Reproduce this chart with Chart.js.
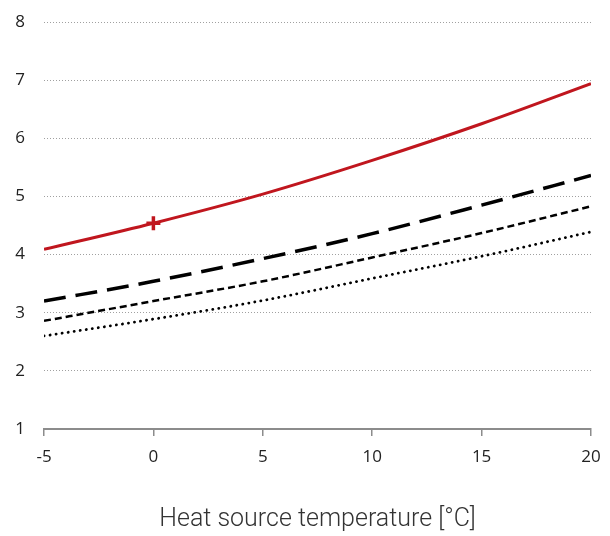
<!DOCTYPE html>
<html>
<head>
	<meta charset="utf-8">
	<title>Heat source temperature</title>
	<script src="https://cdn.jsdelivr.net/npm/chart.js@4/dist/chart.umd.min.js"></script>
	<style>
		html, body { margin: 0; padding: 0; background: #fff; }
		.chart-container { width: 610px; height: 536px; }
	</style>
</head>
<body>
	<div class="chart-container">
		<canvas id="myChart"></canvas>
	</div>
	<script>
		// values
		var temps = [-5, 0, 5, 10, 15, 20];
		var redLine = [4.09, 4.54, 5.04, 5.62, 6.25, 6.94];
		var longDash = [3.20, 3.54, 3.93, 4.36, 4.85, 5.36];
		var shortDash = [2.86, 3.20, 3.54, 3.95, 4.37, 4.83];
		var dotted = [2.60, 2.89, 3.21, 3.59, 3.97, 4.39];
		var markerTemp = [0];
		var markerValue = [4.54];
		var xTicks = [-5, 0, 5, 10, 15, 20];
		var yTicks = [1, 2, 3, 4, 5, 6, 7, 8];

		function pts(xs, ys) {
			return xs.map(function(x, i) { return { x: x, y: ys[i] }; });
		}

		var red = '#C0161E';

		var ctx = document.getElementById('myChart').getContext('2d');
		var myChart = new Chart(ctx, {
			type: 'line',
			data: {
				datasets: [
					{
						data: pts(markerTemp, markerValue),
						showLine: false,
						pointStyle: 'cross',
						pointRadius: 7,
						pointBorderWidth: 3.5,
						pointBorderColor: red,
						order: 0
					},
					{
						data: pts(temps, redLine),
						borderColor: red,
						borderWidth: 3,
						pointRadius: 0,
						cubicInterpolationMode: 'monotone',
						order: 1
					},
					{
						data: pts(temps, longDash),
						borderColor: '#000',
						borderWidth: 3.5,
						borderDash: [22, 10],
						pointRadius: 0,
						cubicInterpolationMode: 'monotone',
						order: 2
					},
					{
						data: pts(temps, shortDash),
						borderColor: '#000',
						borderWidth: 2.5,
						borderDash: [7, 4],
						pointRadius: 0,
						cubicInterpolationMode: 'monotone',
						order: 3
					},
					{
						data: pts(temps, dotted),
						borderColor: '#000',
						borderWidth: 2.8,
						borderDash: [0.1, 6],
						borderCapStyle: 'round',
						pointRadius: 0,
						cubicInterpolationMode: 'monotone',
						order: 4
					}
				]
			},
			options: {
				responsive: true,
				maintainAspectRatio: false,
				animation: false,
				layout: { padding: { top: 22, right: 19, bottom: 0, left: 0 } },
				scales: {
					x: {
						type: 'linear',
						min: xTicks[0],
						max: xTicks[xTicks.length - 1],
						afterBuildTicks: function(scale) {
							scale.ticks = xTicks.map(function(v) { return { value: v }; });
						},
						afterFit: function(scale) {
							scale.height = 107;
							scale.paddingLeft = 0;
							scale.paddingRight = 0;
						},
						grid: {
							drawOnChartArea: false,
							drawTicks: true,
							tickLength: 7,
							color: '#8c8c8c',
							lineWidth: 1.5
						},
						border: { display: true, color: '#8c8c8c', width: 2 },
						ticks: {
							padding: 11,
							color: '#222',
							font: { family: "'Open Sans'", size: 17 }
						},
						title: {
							display: true,
							text: 'Heat source temperature [°C]',
							color: '#333',
							padding: { top: 0, bottom: 1 },
							font: { family: 'Roboto', weight: '300', size: 25 }
						}
					},
					y: {
						min: yTicks[0],
						max: yTicks[yTicks.length - 1],
						afterBuildTicks: function(scale) {
							scale.ticks = yTicks.map(function(v) { return { value: v }; });
						},
						afterFit: function(scale) {
							scale.width = 44;
							scale.paddingTop = 0;
							scale.paddingBottom = 0;
						},
						grid: {
							drawTicks: false,
							color: '#a0a0a0',
							lineWidth: 1
						},
						border: { display: false, dash: [1, 2] },
						ticks: {
							padding: 19,
							color: '#222',
							font: { family: "'Open Sans'", size: 17 }
						}
					}
				},
				plugins: {
					legend: { display: false },
					tooltip: { enabled: false }
				}
			}
		});
	</script>
</body>
</html>
